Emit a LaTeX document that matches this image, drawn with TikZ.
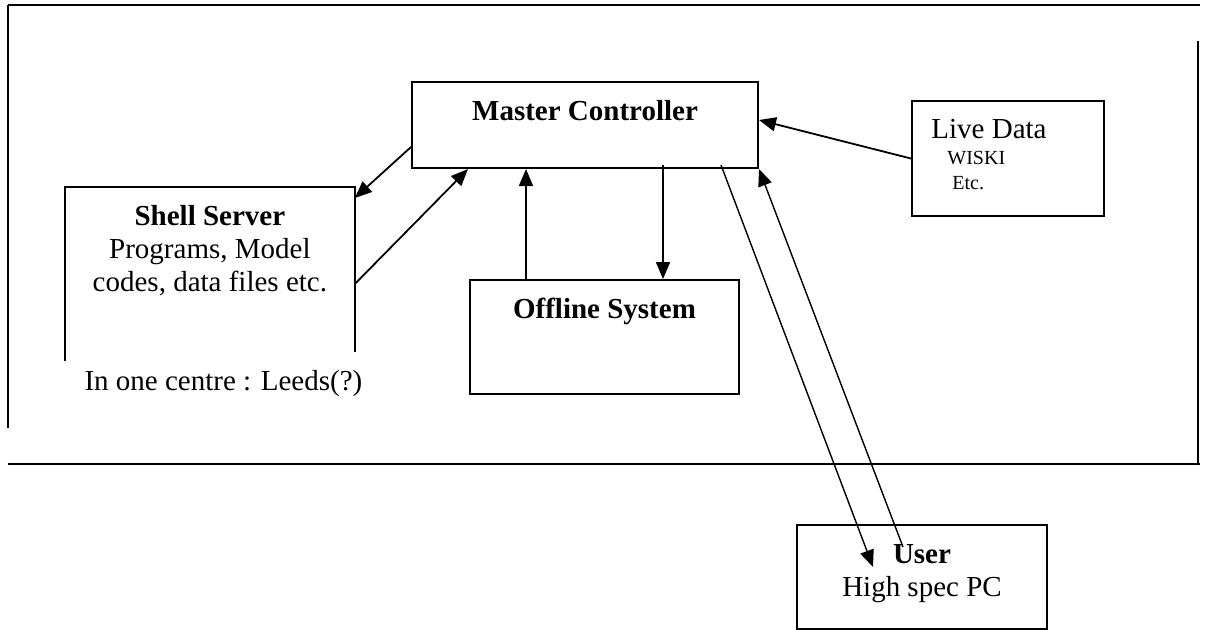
\documentclass[tikz,border=0pt]{standalone}
\usepackage{fontspec}
\setmainfont{Liberation Serif}
\usepackage{tikz}
\usetikzlibrary{arrows.meta,positioning,calc}
\newcommand{\boxfont}{\fontsize{14.5}{16.5}\selectfont}
\newcommand{\smallboxfont}{\fontsize{10}{12}\selectfont}

\begin{document}
\begin{tikzpicture}[
    x=0.5pt, y=-0.5pt,
    font=\boxfont,
    box/.style={rectangle, draw=black, line width=1pt, anchor=north west, inner sep=0pt},
    title/.style={font=\boxfont\bfseries, anchor=base, inner sep=0pt},
    plain/.style={anchor=base west, inner sep=0pt},
    frame/.style={line width=1.2pt},
    arrow/.style={-{Triangle[length=8.5pt,width=7pt]}, line width=0.9pt},
    thinarrow/.style={arrow, line width=0.7pt}
]
    \useasboundingbox (0,0) rectangle (1206,629);

    % Outer frame
    \draw[frame] (8,5) -- (1200,5);
    \draw[frame] (8,5) -- (8,428);
    \draw[frame] (8,464) -- (1200,464);
    \draw[frame] (1198,41) -- (1198,464);

    % Master Controller
    \node[box, minimum width=173pt, minimum height=43pt] (master) at (411,81) {};
    \node[title] (master-title) at ([yshift=-19.5pt]master.north) {Master Controller};

    % Shell Server (open at the bottom)
    \node[anchor=north west, inner sep=0pt, minimum width=144.5pt, minimum height=82pt] (shell) at (65,187) {};
    \draw[line width=1pt] ([yshift=-4.5pt]shell.south west) -- (shell.north west) -- (shell.north east) -- (shell.south east);
    \node[anchor=north, align=center, inner sep=0pt] (shell-content) at ([yshift=-9.2pt]shell.north)
        {\textbf{Shell Server}\\Programs, Model\\codes, data files etc.};
    \node[anchor=base, inner sep=0pt] (shell-centre) at ([xshift=6.75pt,yshift=-19.5pt]shell.south) {In one centre : Leeds(?)};

    % Offline System
    \node[box, minimum width=134.5pt, minimum height=57pt] (offline) at (469,279) {};
    \node[title] (offline-title) at ([yshift=-19.5pt]offline.north) {Offline System};

    % Live Data
    \node[box, minimum width=96pt, minimum height=57.5pt] (live) at (911,100) {};
    \node[plain] (live-title) at ([xshift=10pt,yshift=-19pt]live.north west) {Live Data};
    \node[plain, font=\smallboxfont] (live-wiski) at ([xshift=18pt,yshift=-32pt]live.north west) {WISKI};
    \node[plain, font=\smallboxfont] (live-etc) at ([xshift=20.5pt,yshift=-44.5pt]live.north west) {Etc.};

    % User
    \node[box, minimum width=125pt, minimum height=52pt] (user) at (796,524) {};
    \node[anchor=north, align=center, inner sep=0pt] (user-content) at ([yshift=-10pt]user.north)
        {\textbf{User}\\High spec PC};

    % Connectors
    \draw[arrow] ([yshift=11pt]master.south west) -- ([yshift=-5.5pt]shell.north east);
    \draw[arrow] ([yshift=-48.5pt]shell.north east) -- ([xshift=28.5pt]master.south west);
    \draw[arrow] ([xshift=28.5pt]offline.north west) -- ([xshift=28.5pt]offline.north west |- master.south);
    \draw[arrow] ([xshift=-38.5pt,yshift=2pt]offline.north east |- master.south) -- ([xshift=-38.5pt]offline.north east);
    \draw[arrow] (live.west) -- ([yshift=2.5pt]master.east);
    \draw[thinarrow] ([xshift=-19pt,yshift=2pt]master.south east) -- ([xshift=38.5pt,yshift=-21.5pt]user.north west);
    \draw[thinarrow] ([xshift=53.5pt,yshift=-11.5pt]user.north west) -- (master.south east);
\end{tikzpicture}
\end{document}
